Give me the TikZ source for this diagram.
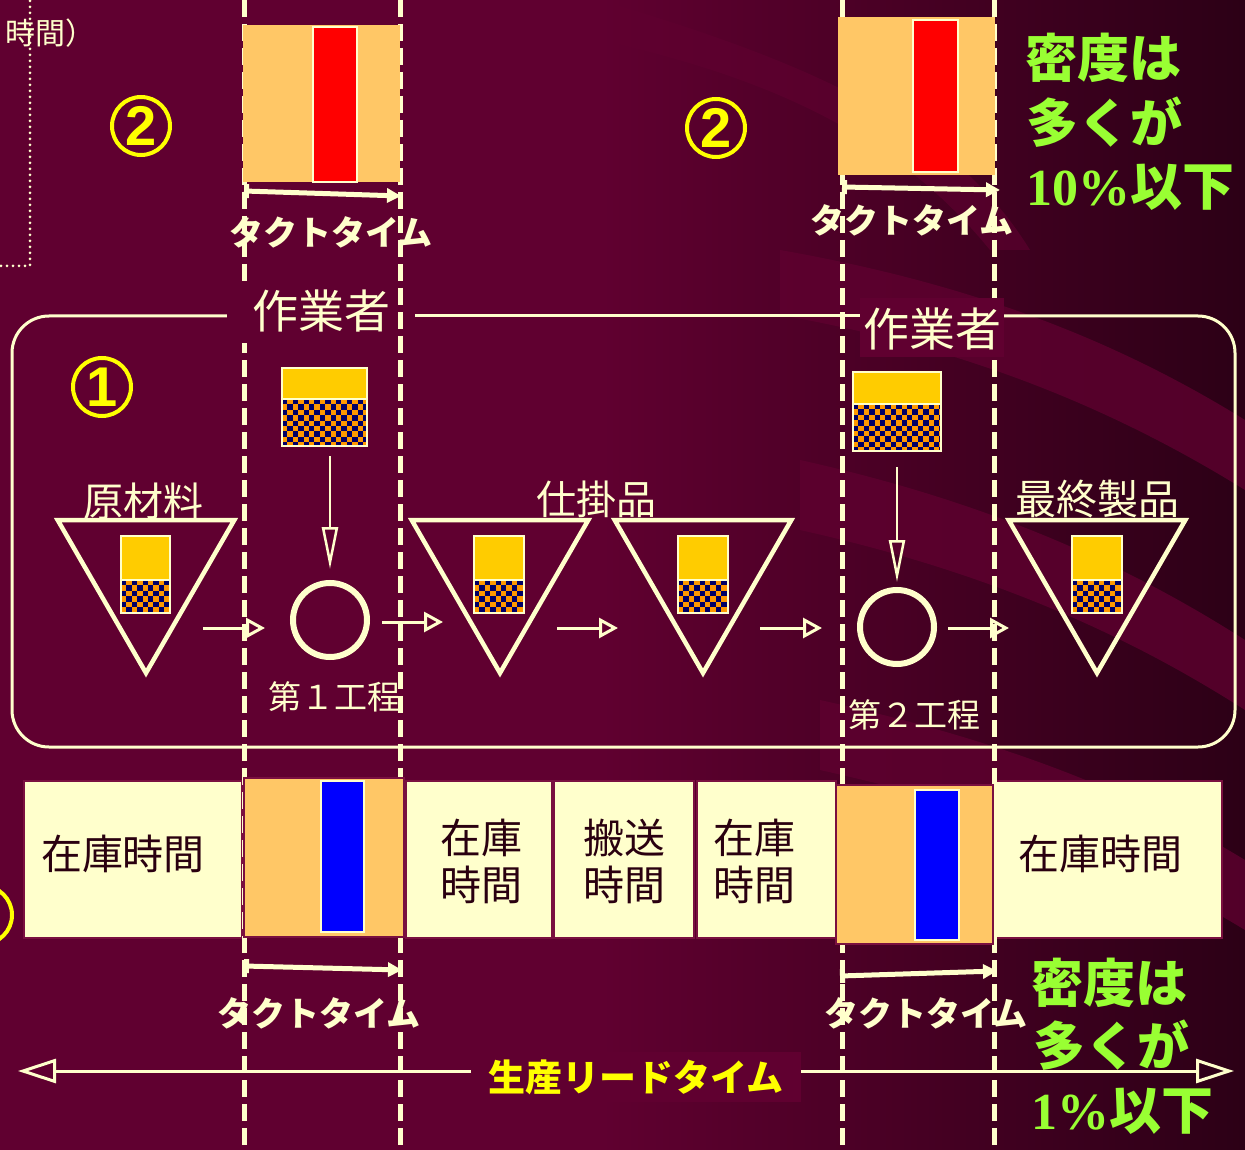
\documentclass[tikz,border=0pt]{standalone}
\usepackage{fontspec}
\setmainfont{Noto Sans CJK JP}
\newfontfamily\serifbf{Liberation Serif}
\newfontfamily\digitf{Liberation Sans}
\usetikzlibrary{arrows.meta,shapes.geometric}
\definecolor{bgc}{HTML}{600030}
\definecolor{darkc}{HTML}{2C0016}
\definecolor{cream}{HTML}{FFFFCC}
\definecolor{ylw}{HTML}{FFFF00}
\definecolor{grn}{HTML}{99FF33}
\definecolor{orng}{HTML}{FFC766}
\definecolor{stky}{HTML}{FFCC00}
\definecolor{chko}{HTML}{FF9900}
\definecolor{chkn}{HTML}{000066}
\definecolor{celltxt}{HTML}{2A0010}
\definecolor{cellbd}{HTML}{7A1040}
\newcommand\fsz[1]{\fontsize{#1}{#1}\selectfont}
\newcommand\mkchecker[4]{%
  \fill[chko] (#1,#2) rectangle (#3,#4);
  \begin{scope}
    \clip (#1,#2) rectangle (#3,#4);
    \foreach \i in {0,...,17}{\foreach \j in {0,...,9}{%
      \pgfmathtruncatemacro\chkpar{mod(\i+\j,2)}%
      \ifnum\chkpar=0 \fill[chkn] ({#1+\i*5.4},{#2+\j*5.4}) rectangle ++(5.4,5.4);\fi}}
  \end{scope}}
% name, x1, y1, x2, ydiv, y2
\newcommand\stockbox[6]{%
  \fill[stky] (#2,#3) rectangle (#4,#5);
  \mkchecker{#2}{#5}{#4}{#6}
  \draw[cream, line width=1.5pt] (#2,#5) -- (#4,#5);
  \pgfmathsetmacro\sbw{#4-#2}\pgfmathsetmacro\sbh{#6-#3}
  \node[draw=cream, line width=2pt, inner sep=0pt, outer sep=0pt, minimum width=\sbw pt, minimum height=\sbh pt, anchor=north west] (#1) at (#2,#3) {};}
\tikzset{
  tri/.style={regular polygon, regular polygon sides=3, shape border rotate=180, minimum size=204pt, inner sep=0pt, draw=cream, line width=4.5pt},
  proc/.style={circle, draw=cream, line width=6pt, minimum size=74pt, inner sep=0pt},
  flow/.style={draw=cream, line width=3pt, -{Triangle[open, length=19pt, width=20pt]}},
  feed/.style={draw=cream, line width=2.5pt, -{Triangle[open, length=42pt, width=16pt]}},
  takt/.style={draw=cream, line width=5pt, {Bar[width=14pt]}-{Triangle[length=14pt,width=14pt]}},
  lead/.style={draw=cream, line width=3pt, {Triangle[open, length=38pt, width=24pt]}-{Triangle[open, length=38pt, width=24pt]}},
  vdash/.style={draw=cream, line width=5pt, dash pattern=on 17pt off 7pt},
  cell/.style={draw=cellbd, line width=1.5pt, fill=cream, inner sep=0pt, anchor=north west},
  celltext/.style={text=celltxt, inner sep=0pt, align=center, font=\fontsize{41}{47}\selectfont},
  circnum/.style={circle, draw=ylw, line width=4pt, minimum size=58pt, inner sep=0pt, text=ylw, font=\digitf\bfseries\fsz{56}},
  greentxt/.style={text=grn, font=\bfseries\fsz{52}, anchor=west, inner sep=0pt},
  lbl/.style={text=cream, inner sep=0pt},
  taktlbl/.style={text=cream, inner sep=0pt, font=\bfseries\fsz{34}},
}
\begin{document}
\begin{tikzpicture}[x=1pt,y=-1pt]
\useasboundingbox (0,0) rectangle (1245,1150);
% background
\fill[bgc] (0,0) rectangle (1245,1150);
\shade[left color=bgc, right color=darkc] (600,0) rectangle (1245,1150);
\fill[bgc, opacity=0.75] (780,250) .. controls (950,280) and (1100,330) .. (1245,420) -- (1245,490) .. controls (1100,400) and (950,345) .. (780,315) -- cycle;
\fill[bgc, opacity=0.75] (800,460) .. controls (980,500) and (1120,560) .. (1245,640) -- (1245,710) .. controls (1120,630) and (980,570) .. (800,530) -- cycle;
\fill[bgc, opacity=0.75] (820,700) .. controls (1000,740) and (1130,790) .. (1245,860) -- (1245,930) .. controls (1130,860) and (1000,810) .. (820,770) -- cycle;
\fill[bgc, opacity=0.6] (600,0) .. controls (800,60) and (950,120) .. (1030,250) -- (990,250) .. controls (900,140) and (780,80) .. (600,40) -- cycle;

% top-left partial frame and text
\draw[cream, line width=3pt, line cap=round, dash pattern=on 0pt off 6pt] (-5,266) -- (30,266) -- (30,-5);
\node[lbl, anchor=west, font=\fsz{30}] (tl) at (5,33) {時間）};

% circled numbers
\node[circnum] (n2a) at (141,126) {2};
\node[circnum] (n2b) at (716,128) {2};
\node[circnum] (n1) at (102,387) {1};
\node[circle, draw=ylw, line width=4pt, minimum size=58pt, inner sep=0pt] (n3) at (-17,915) {};

% triangles (stock points)
\node[tri] (tr1) at (146,571) {};
\node[tri] (tr2) at (500,571) {};
\node[tri] (tr3) at (703,571) {};
\node[tri] (tr4) at (1097,571) {};
\stockbox{s1}{121}{536}{170}{580}{613}
\stockbox{s2}{474}{536}{524}{580}{613}
\stockbox{s3}{678}{536}{728}{580}{613}
\stockbox{s4}{1072}{536}{1122}{580}{613}
\node[lbl, font=\fsz{40}] (l1) at (143,501) {原材料};
\node[lbl, font=\fsz{40}] (l2) at (596,499) {仕掛品};
\node[lbl, font=\fsz{41}] (l3) at (1097,499) {最終製品};

% processes
\stockbox{sp1}{282}{368}{367}{399}{446}
\stockbox{sp2}{853}{372}{941}{404}{451}
\node[proc] (p1) at (330,620) {};
\node[proc] (p2) at (897,627) {};
\node[lbl, font=\fsz{33}] (pl1) at (334,697) {第１工程};
\node[lbl, font=\fsz{33}] (pl2) at (914,715) {第２工程};
\draw[feed, shorten <=10pt, shorten >=11pt] (sp1.south -| p1.center) -- (p1.north);
\draw[feed, shorten <=16pt, shorten >=5pt] (sp2.south -| p2.center) -- (p2.north);

% flow arrows
\coordinate (a1s) at (203,628); \coordinate (a1e) at (265,628);
\coordinate (a2s) at (382,622); \coordinate (a2e) at (443,622);
\coordinate (a3s) at (557,628); \coordinate (a3e) at (618,628);
\coordinate (a4s) at (760,628); \coordinate (a4e) at (822,628);
\coordinate (a5s) at (948,628); \coordinate (a5e) at (1009,628);
\draw[flow] (a1s) -- (a1e);
\draw[flow] (a2s) -- (a2e);
\draw[flow] (a3s) -- (a3e);
\draw[flow] (a4s) -- (a4e);
\draw[flow] (a5s) -- (a5e);

% frame
\draw[cream, line width=3pt, rounded corners=37pt] (1004,316) -- (1235,316) -- (1235,747) -- (12,747) -- (12,316) -- (227,316);
\draw[cream, line width=3pt] (415,316) -- (860,316);

% bottom bar cells
\node[cell, minimum width=218pt, minimum height=157pt] (c1) at (23,780) {};
\node[cell, minimum width=146pt, minimum height=157pt] (c2) at (405,780) {};
\node[cell, minimum width=140pt, minimum height=157pt] (c3) at (553,780) {};
\node[cell, minimum width=139pt, minimum height=157pt] (c4) at (696,780) {};
\node[cell, minimum width=229pt, minimum height=157pt] (c5) at (992,780) {};
\node[celltext] (t1) at (123,854) {在庫時間};
\node[celltext] (t2) at (481,861) {在庫\\時間};
\node[celltext] (t3) at (624,861) {搬送\\時間};
\node[celltext] (t4) at (754,861) {在庫\\時間};
\node[celltext] (t5) at (1100,854) {在庫時間};

% takt arrows and labels
\coordinate (k1s) at (244,191); \coordinate (k1e) at (401,196);
\coordinate (k2s) at (842,187); \coordinate (k2e) at (1000,190);
\coordinate (k3s) at (244,966); \coordinate (k3e) at (402,970);
\coordinate (k4s) at (840,976); \coordinate (k4e) at (997,971);
\draw[takt] (k1s) -- (k1e);
\draw[takt] (k2s) -- (k2e);
\draw[takt] (k3s) -- (k3e);
\draw[takt] (k4s) -- (k4e);
\node[taktlbl] (kl1) at (331,232) {タクトタイム};
\node[taktlbl] (kl2) at (912,220) {タクトタイム};
\node[taktlbl] (kl3) at (319,1013) {タクトタイム};
\node[taktlbl] (kl4) at (926,1013) {タクトタイム};

% lead time arrow
\coordinate (ltl) at (18,1071); \coordinate (ltr) at (1234,1071);
\draw[lead] (ltl) -- (ltr);

% green notes
\node[greentxt] (g1) at (1025,58) {密度は};
\node[greentxt] (g2) at (1026,122) {多くが};
\node[greentxt] (g3) at (1026,187) {{\serifbf 10\%}以下};
\node[greentxt] (g4) at (1031,983) {密度は};
\node[greentxt] (g5) at (1033,1045) {多くが};
\node[greentxt] (g6) at (1031,1111) {{\serifbf 1\%}以下};

% vertical dashed lines
\coordinate (v1t) at (244,0); \coordinate (v1b) at (244,1150);
\coordinate (v2t) at (400,0); \coordinate (v2b) at (400,1150);
\coordinate (v3t) at (842,0); \coordinate (v3b) at (842,1150);
\coordinate (v4t) at (994,0); \coordinate (v4b) at (994,1150);
\draw[vdash] (v1t) -- (v1b);
\draw[vdash] (v2t) -- (v2b);
\draw[vdash] (v3t) -- (v3b);
\draw[vdash] (v4t) -- (v4b);

% top orange boxes (red bars)
\node[fill=orng, inner sep=0pt, minimum width=157pt, minimum height=157pt, anchor=north west] (o1) at (243,25) {};
\node[fill=red, draw=cream, line width=2pt, inner sep=0pt, minimum width=44pt, minimum height=155pt, anchor=north west] (r1) at (312,26) {};
\node[fill=orng, inner sep=0pt, minimum width=157pt, minimum height=158pt, anchor=north west] (o2) at (838,17) {};
\node[fill=red, draw=cream, line width=2pt, inner sep=0pt, minimum width=45pt, minimum height=152pt, anchor=north west] (r2) at (912,19) {};

% bottom orange boxes (blue bars)
\node[fill=orng, draw=cellbd, line width=1.5pt, inner sep=0pt, minimum width=160pt, minimum height=159pt, anchor=north west] (o3) at (243,777) {};
\node[fill=blue, draw=cream, line width=2pt, inner sep=0pt, minimum width=43pt, minimum height=151pt, anchor=north west] (b1) at (320,780) {};
\node[fill=orng, draw=cellbd, line width=1.5pt, inner sep=0pt, minimum width=157pt, minimum height=159pt, anchor=north west] (o4) at (835,784) {};
\node[fill=blue, draw=cream, line width=2pt, inner sep=0pt, minimum width=44pt, minimum height=150pt, anchor=north west] (b2) at (914,789) {};

% worker labels
\fill[bgc] (227,281) rectangle (395,343);
\node[lbl, font=\fsz{46}] (w1) at (321,311) {作業者};
\fill[bgc] (860,298) rectangle (1004,357);
\node[lbl, font=\fsz{46}] (w2) at (932,329) {作業者};

% lead time label
\node[fill=bgc, minimum width=330pt, minimum height=50pt, inner sep=0pt, text=ylw, font=\bfseries\fsz{37}] (lt) at (636,1077) {生産リードタイム};
\end{tikzpicture}
\end{document}
